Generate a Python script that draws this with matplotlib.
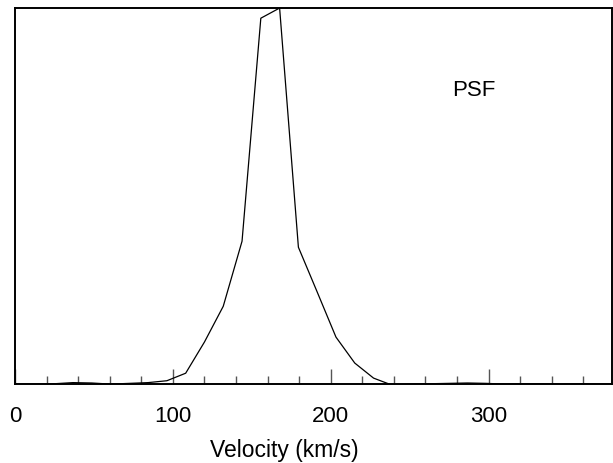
import numpy as np
import matplotlib.pyplot as plt

plt.rcParams['font.family'] = ['Liberation Sans', 'DejaVu Sans']

# channel velocities (km/s) and normalised PSF profile
velocity = [1.0, 12.9, 24.8, 36.7, 48.6, 60.5, 72.4, 84.3, 96.2, 108.1,
            120.0, 131.9, 143.8, 155.7, 167.6, 179.5, 191.4, 203.3, 215.2, 227.1,
            239.0, 250.9, 262.8, 274.7, 286.6, 298.5, 310.4, 322.3, 334.2, 346.1,
            358.0, 369.9, 381.8]
psf = [0.000, 0.000, 0.001, 0.004, 0.003, 0.000, 0.002, 0.004, 0.009, 0.029,
       0.112, 0.207, 0.380, 0.973, 1.000, 0.364, 0.245, 0.125, 0.056, 0.016,
       -0.003, 0.000, 0.001, 0.002, 0.003, 0.002, 0.000, 0.001, 0.001, 0.000,
       0.001, 0.000, 0.000]

major_ticks = [0, 100, 200, 300]
minor_ticks = [v for v in range(20, 380, 20) if v % 100 != 0]

fig = plt.figure(figsize=(6.13, 4.64), dpi=100)
ax = fig.add_axes([0.0245, 0.170, 0.9735, 0.8105])

ax.plot(velocity, psf, color='black', linewidth=0.9)

ax.set_xlim(0, 378)
ax.set_ylim(0, 1.0)

ax.set_xticks(major_ticks)
ax.set_xticks(minor_ticks, minor=True)
ax.set_yticks([])
ax.tick_params(axis='x', which='major', direction='in', length=11, width=1,
               color='#555555', labelsize=16, pad=15)
ax.tick_params(axis='x', which='minor', direction='in', length=5.5, width=1,
               color='#555555')

for s in ax.spines.values():
    s.set_linewidth(1.4)

ax.set_xlabel('Velocity (km/s)', fontsize=16.5)
ax.xaxis.set_label_coords(0.451, -0.192, transform=ax.transAxes)
ax.xaxis.label.set_va('baseline')
ax.text(0.769, 0.769, 'PSF', fontsize=16, ha='center', va='baseline',
        transform=ax.transAxes)

fig.savefig('out.png', dpi=100)
